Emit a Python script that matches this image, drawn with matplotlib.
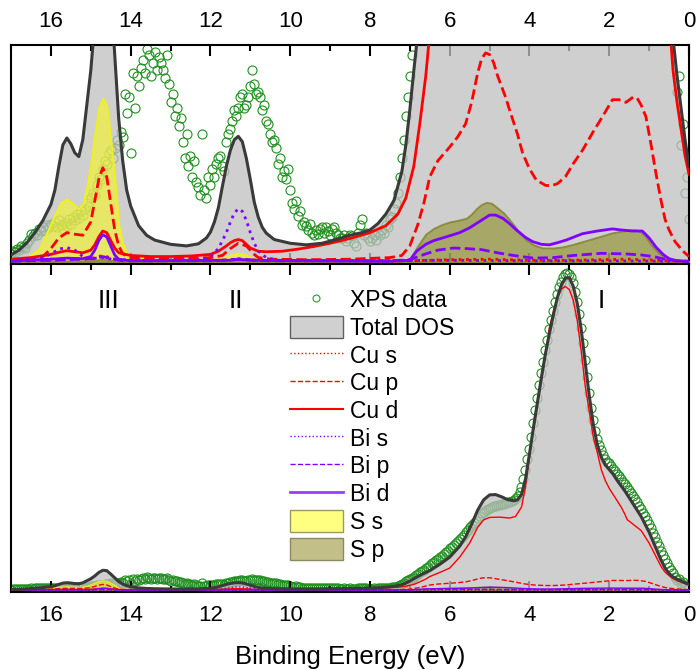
import numpy as np
import matplotlib
matplotlib.use("Agg")
import matplotlib.pyplot as plt
from matplotlib.patches import Patch
from matplotlib.lines import Line2D

plt.rcParams['font.family'] = ['Liberation Sans', 'DejaVu Sans']

# ---- data (arbitrary units, main peak of total DOS ~ 100) ----
tot_E = [17.0, 16.8, 16.6, 16.4, 16.2, 16.0, 15.9, 15.8, 15.7, 15.6, 15.5, 15.4, 15.3, 15.2, 15.1,
         15.0, 14.9, 14.8, 14.7, 14.6, 14.5, 14.4, 14.3, 14.2, 14.1, 14.0, 13.8, 13.6, 13.4, 13.0,
         12.6, 12.3, 12.1, 12.0, 11.9, 11.8, 11.7, 11.6, 11.5, 11.4, 11.3, 11.2, 11.1, 11.0, 10.9,
         10.8, 10.7, 10.6, 10.4, 10.0, 9.6, 9.2, 8.8, 8.5, 8.2, 8.0, 7.8, 7.6, 7.4, 7.2,
         7.1, 7.0, 6.9, 6.8, 6.7, 6.5, 6.25, 6.0, 5.75, 5.6, 5.45, 5.3, 5.15, 5.0, 4.85,
         4.7, 4.55, 4.4, 4.3, 4.2, 4.1, 4.0, 3.9, 3.8, 3.7, 3.6, 3.5, 3.4, 3.3, 3.2,
         3.1, 3.0, 2.9, 2.8, 2.7, 2.6, 2.5, 2.4, 2.3, 2.2, 2.1, 2.0, 1.9, 1.8, 1.6,
         1.4, 1.2, 1.0, 0.9, 0.8, 0.7, 0.6, 0.5, 0.4, 0.3, 0.2, 0.1, 0.0]
tot = [0.13, 0.22, 0.36, 0.55, 0.78, 1.08, 1.35, 1.8, 2.2, 2.33, 2.22, 2.05, 1.98, 2.3, 2.95,
       3.6, 4.5, 5.6, 6.3, 6.2, 5.1, 3.9, 2.7, 1.9, 1.35, 1.05, 0.68, 0.5, 0.41, 0.33,
       0.3, 0.34, 0.45, 0.56, 0.75, 1.02, 1.42, 1.8, 2.1, 2.3, 2.36, 2.26, 1.95, 1.55, 1.12,
       0.84, 0.65, 0.54, 0.42, 0.35, 0.32, 0.35, 0.43, 0.5, 0.55, 0.6, 0.72, 0.9, 1.15, 1.7,
       2.2, 2.86, 3.6, 4.3, 5.0, 6.2, 8.2, 10.5, 14.0, 17.0, 21.0, 25.5, 28.8, 30.4, 30.5,
       29.8, 28.9, 28.5, 28.8, 30.5, 35.5, 43.5, 52.0, 60.0, 68.0, 75.5, 82.0, 88.0, 93.5, 97.5,
       99.7, 99.8, 97.0, 91.5, 83.0, 72.5, 62.0, 53.0, 46.5, 42.5, 40.0, 38.5, 37.0, 35.0, 31.5,
       27.5, 23.5, 18.5, 15.5, 12.5, 9.5, 7.0, 5.3, 4.2, 3.5, 2.9, 2.3, 1.8]

cu_s_E = [17.0, 16.0, 15.6, 15.0, 14.7, 14.3, 13.5, 11.6, 11.3, 11.0, 10.0, 7.0, 6.0, 5.0, 4.0,
          3.0, 1.5, 0.5, 0.0]
cu_s = [0.02, 0.03, 0.05, 0.06, 0.12, 0.03, 0.02, 0.03, 0.06, 0.03, 0.02, 0.02, 0.04, 0.05, 0.03,
        0.03, 0.05, 0.02, 0.01]

cu_p_E = [17.0, 16.5, 16.2, 16.0, 15.8, 15.6, 15.4, 15.2, 15.0, 14.9, 14.8, 14.7, 14.6, 14.5, 14.4,
          14.3, 14.2, 14.0, 13.0, 12.0, 11.7, 11.5, 11.3, 11.1, 11.0, 10.9, 10.8, 10.5, 9.5, 8.5,
          7.5, 7.2, 7.0, 6.8, 6.65, 6.5, 6.3, 6.0, 5.8, 5.6, 5.45, 5.3, 5.2, 5.1, 5.0,
          4.9, 4.8, 4.6, 4.5, 4.3, 4.17, 4.0, 3.83, 3.6, 3.46, 3.3, 3.1, 2.9, 2.67, 2.4,
          2.17, 1.92, 1.75, 1.58, 1.4, 1.3, 1.2, 1.08, 0.95, 0.83, 0.7, 0.6, 0.5, 0.35, 0.15, 0.0]
cu_p = [0.03, 0.05, 0.1, 0.25, 0.45, 0.55, 0.52, 0.5, 0.75, 1.15, 1.55, 1.77, 1.6, 1.1, 0.6,
        0.3, 0.15, 0.08, 0.06, 0.08, 0.12, 0.25, 0.35, 0.3, 0.22, 0.14, 0.08, 0.05, 0.04, 0.05,
        0.08, 0.12, 0.3, 0.7, 1.1, 1.6, 1.9, 2.16, 2.35, 2.6, 3.0, 3.55, 3.82, 3.93, 3.9,
        3.75, 3.5, 3.1, 2.86, 2.4, 2.04, 1.75, 1.54, 1.44, 1.43, 1.47, 1.6, 1.85, 2.1, 2.45,
        2.73, 3.05, 3.05, 3.0, 3.1, 3.08, 2.95, 2.73, 2.2, 1.67, 1.15, 0.8, 0.6, 0.38, 0.2, 0.1]

cu_d_E = [17.0, 16.5, 16.0, 15.8, 15.6, 15.4, 15.2, 15.0, 14.9, 14.8, 14.7, 14.6, 14.5, 14.4, 14.3,
          14.0, 13.5, 13.0, 12.5, 12.0, 11.8, 11.6, 11.5, 11.4, 11.3, 11.2, 11.1, 11.0, 10.8, 10.6,
          10.2, 9.8, 9.4, 9.0, 8.5, 8.0, 7.6, 7.3, 7.1, 6.9, 6.75, 6.6, 6.5, 6.25, 6.0,
          5.75, 5.5, 5.3, 5.15, 5.0, 4.75, 4.5, 4.35, 4.2, 4.1, 4.0, 3.9, 3.8, 3.7, 3.6,
          3.5, 3.4, 3.3, 3.2, 3.1, 3.0, 2.9, 2.8, 2.7, 2.6, 2.5, 2.4, 2.3, 2.2, 2.1,
          2.0, 1.9, 1.8, 1.7, 1.6, 1.55, 1.4, 1.2, 1.0, 0.9, 0.8, 0.7, 0.6, 0.5, 0.4,
          0.3, 0.2, 0.1, 0.0]
cu_d = [0.05, 0.08, 0.14, 0.18, 0.21, 0.19, 0.17, 0.22, 0.32, 0.47, 0.58, 0.55, 0.4, 0.26, 0.17,
        0.12, 0.1, 0.1, 0.11, 0.14, 0.2, 0.3, 0.36, 0.4, 0.42, 0.4, 0.33, 0.26, 0.2, 0.19,
        0.2, 0.24, 0.29, 0.35, 0.44, 0.55, 0.68, 0.9, 1.2, 1.8, 2.6, 3.5, 4.3, 5.6, 7.0,
        10.5, 15.0, 20.0, 22.4, 23.2, 23.3, 23.0, 23.5, 26.5, 33.0, 42.5, 51.0, 59.0, 67.0, 75.0,
        84.0, 89.0, 93.5, 96.2, 97.0, 96.0, 92.5, 86.0, 76.0, 65.0, 57.0, 49.0, 44.0, 38.5, 35.0,
        32.5, 30.5, 28.5, 26.5, 24.0, 22.5, 21.0, 19.0, 15.0, 12.5, 10.0, 7.5, 5.7, 4.6, 3.6,
        3.0, 2.5, 2.0, 1.65]

bi_s_E = [17.0, 16.2, 16.0, 15.8, 15.6, 15.4, 15.2, 15.0, 14.7, 14.4, 13.5, 12.2, 12.0, 11.8, 11.6,
          11.5, 11.4, 11.3, 11.2, 11.1, 11.0, 10.9, 10.8, 10.6, 10.3, 8.0, 6.0, 4.0, 2.0, 0.0]
bi_s = [0.02, 0.08, 0.15, 0.24, 0.27, 0.22, 0.1, 0.06, 0.08, 0.04, 0.03, 0.04, 0.1, 0.25, 0.55,
        0.75, 0.92, 1.0, 0.95, 0.78, 0.55, 0.35, 0.2, 0.08, 0.03, 0.02, 0.03, 0.02, 0.02, 0.01]

bi_p_E = [17.0, 15.6, 14.9, 14.7, 14.5, 14.2, 12.0, 11.3, 10.5, 7.5, 7.0, 6.6, 6.3, 5.9, 5.6,
          5.2, 4.8, 4.4, 3.9, 3.4, 2.9, 2.2, 1.6, 1.2, 0.9, 0.6, 0.3, 0.0]
bi_p = [0.01, 0.04, 0.06, 0.1, 0.06, 0.02, 0.02, 0.05, 0.02, 0.02, 0.04, 0.15, 0.22, 0.26, 0.25,
        0.23, 0.17, 0.12, 0.07, 0.08, 0.12, 0.16, 0.15, 0.13, 0.1, 0.05, 0.02, 0.01]

bi_d_E = [17.0, 16.0, 15.6, 15.2, 15.0, 14.9, 14.8, 14.7, 14.6, 14.5, 14.4, 14.3, 14.0, 11.5, 11.3,
          11.0, 7.5, 7.0, 6.83, 6.6, 6.4, 6.0, 5.75, 5.5, 5.25, 5.0, 4.85, 4.67, 4.5, 4.33,
          4.1, 3.92, 3.7, 3.5, 3.3, 3.08, 2.67, 2.3, 1.92, 1.7, 1.42, 1.17, 1.0, 0.83, 0.65,
          0.5, 0.3, 0.0]
bi_d = [0.02, 0.05, 0.07, 0.06, 0.1, 0.22, 0.4, 0.51, 0.47, 0.3, 0.13, 0.05, 0.02, 0.03, 0.05,
        0.03, 0.01, 0.03, 0.2, 0.33, 0.4, 0.49, 0.55, 0.64, 0.76, 0.88, 0.88, 0.82, 0.72, 0.6,
        0.46, 0.38, 0.33, 0.32, 0.36, 0.41, 0.53, 0.58, 0.62, 0.6, 0.58, 0.58, 0.45, 0.28, 0.14,
        0.06, 0.02, 0.01]

s_s_E = [17.0, 16.6, 16.3, 16.1, 15.9, 15.75, 15.6, 15.45, 15.3, 15.2, 15.1, 15.0, 14.9, 14.8, 14.7,
         14.6, 14.5, 14.4, 14.3, 14.2, 14.1, 14.0, 13.5, 12.0, 11.7, 11.5, 11.3, 11.1, 10.9, 10.5,
         7.0, 5.0, 3.0, 2.0, 1.0, 0.0]
s_s = [0.02, 0.08, 0.25, 0.55, 0.9, 1.12, 1.18, 1.1, 1.0, 1.1, 1.4, 1.85, 2.4, 2.9, 3.08,
       2.95, 2.3, 1.6, 0.7, 0.35, 0.18, 0.1, 0.04, 0.04, 0.08, 0.13, 0.16, 0.13, 0.06, 0.02,
       0.01, 0.03, 0.02, 0.04, 0.03, 0.0]

s_p_E = [17.0, 15.0, 14.7, 14.4, 11.3, 7.2, 7.0, 6.8, 6.6, 6.4, 6.2, 6.0, 5.8, 5.58, 5.45,
         5.33, 5.2, 5.08, 4.95, 4.83, 4.65, 4.5, 4.3, 4.08, 3.9, 3.67, 3.4, 3.17, 2.9, 2.67,
         2.4, 2.17, 1.95, 1.75, 1.5, 1.33, 1.2, 1.08, 0.95, 0.75, 0.55, 0.4, 0.0]
s_p = [0.01, 0.02, 0.05, 0.02, 0.04, 0.01, 0.05, 0.3, 0.52, 0.63, 0.7, 0.75, 0.78, 0.82, 0.9,
       1.0, 1.08, 1.12, 1.1, 1.03, 0.92, 0.79, 0.6, 0.41, 0.32, 0.26, 0.26, 0.28, 0.33, 0.38,
       0.44, 0.49, 0.54, 0.57, 0.6, 0.6, 0.56, 0.47, 0.32, 0.16, 0.06, 0.01, 0.0]

# XPS spectrum, 0.05 eV steps from 17 eV down to 0 eV
xps_E = np.linspace(17.0, 0.0, 341)
xps = [0.15, 0.2, 0.18, 0.25, 0.22, 0.3, 0.28, 0.26, 0.35, 0.42, 0.52, 0.48, 0.55, 0.5, 0.62, 0.58, 0.66, 0.6, 0.7, 0.65,
       0.72, 0.68, 0.75, 0.66, 0.78, 0.7, 0.62, 0.74, 0.68, 0.8, 0.72, 0.85, 0.78, 0.9, 0.82, 0.95, 0.88, 1.0, 1.1, 1.05,
       1.2, 1.3, 1.25, 1.45, 1.6, 1.55, 1.75, 1.9, 1.85, 2.05, 2.1, 1.95, 2.15, 2.3, 2.2, 2.45, 2.35, 3.15, 2.8, 3.1,
       2.05, 3.55, 2.9, 3.5, 3.3, 3.65, 3.8, 3.55, 4.0, 3.9, 3.5, 3.75, 3.95, 3.6, 3.85, 3.75, 3.6, 3.45, 3.9, 3.35,
       3.0, 3.15, 2.75, 2.9, 2.55, 2.7, 2.25, 1.95, 2.4, 1.8, 2.0, 1.6, 1.9, 1.5, 1.4, 1.25, 2.4, 1.35, 1.2, 1.6,
       1.45, 1.75, 1.6, 1.85, 1.95, 2.0, 1.8, 1.7, 2.25, 2.4, 2.5, 2.65, 2.85, 2.75, 2.9, 3.1, 3.15, 2.9, 2.95, 3.1,
       3.3, 3.6, 3.35, 3.15, 3.2, 3.1, 2.85, 2.95, 2.65, 2.6, 2.4, 2.25, 2.3, 2.15, 1.85, 1.95, 1.6, 1.7, 1.55, 1.75,
       1.35, 1.1, 1.0, 1.15, 0.87, 0.95, 0.7, 0.75, 0.68, 0.6, 0.72, 0.55, 0.5, 0.6, 0.52, 0.62, 0.65, 0.55, 0.65, 0.58,
       0.5, 0.62, 0.65, 0.55, 0.5, 0.45, 0.45, 0.5, 0.4, 0.45, 0.5, 0.48, 0.35, 0.3, 0.55, 0.7, 0.8, 0.5, 0.55, 0.45,
       0.4, 0.45, 0.5, 0.42, 0.55, 0.5, 0.6, 0.55, 0.7, 0.65, 0.8, 0.85, 1.0, 1.1, 1.3, 1.6, 1.95, 2.3, 2.75, 3.1,
       3.5, 3.9, 4.3, 4.8, 5.2, 5.6, 6.0, 6.5, 7.0, 7.5, 8.0, 8.5, 9.0, 9.5, 10.0, 10.5, 11.0, 11.5, 12.0, 12.6,
       13.3, 13.9, 14.5, 15.1, 15.8, 16.4, 17.0, 17.7, 18.5, 19.2, 20.0, 20.8, 21.5, 22.2, 23.0, 23.7, 24.5, 25.0, 25.5, 25.9,
       26.2, 26.5, 26.8, 27.0, 27.2, 27.3, 27.5, 27.6, 27.8, 28.0, 28.2, 28.5, 28.8, 29.4, 30.2, 31.4, 33.0, 35.5, 38.5, 42.0,
       45.0, 49.0, 53.5, 57.5, 61.5, 65.5, 69.5, 73.0, 76.8, 80.0, 83.3, 86.3, 89.2, 92.0, 94.5, 96.8, 98.6, 100.0, 101.0, 101.4,
       101.0, 100.0, 98.0, 95.3, 92.2, 88.2, 83.8, 78.8, 73.5, 68.2, 63.0, 58.2, 54.2, 50.8, 48.2, 46.2, 44.6, 43.2, 42.0, 41.0,
       40.5, 39.6, 38.8, 38.0, 37.2, 36.3, 35.5, 34.6, 33.8, 32.9, 32.0, 31.1, 30.2, 29.1, 28.0, 26.9, 25.8, 24.7, 23.5, 22.3,
       21.0, 19.7, 18.3, 16.9, 15.5, 14.0, 12.5, 11.1, 9.8, 8.6, 7.5, 6.4, 5.5, 4.3, 3.2, 3.5, 2.2, 2.6, 1.3, 1.6,
       0.8]

labels = ['XPS data', 'Total DOS', 'Cu s', 'Cu p', 'Cu d', 'Bi s', 'Bi p', 'Bi d', 'S s', 'S p']
regions = ['III', 'II', 'I']
region_E = [14.55, 11.36, 2.2]

RED = '#ff0000'
PURPLE = '#8000ff'
GREEN = '#1f8f1f'


def draw(ax, lw):
    ax.plot(xps_E, xps, 'o', mfc='none', mec=GREEN, mew=0.8, ms=6.5, zorder=1)
    ax.fill_between(tot_E, 0, tot, color='#c0c0c0', alpha=0.75, lw=0, zorder=2)
    ax.fill_between(s_s_E, 0, s_s, facecolor=(1, 1, 0, 0.5), edgecolor='#f0f020', lw=lw * 0.7, zorder=3)
    ax.fill_between(s_p_E, 0, s_p, facecolor=(0.5, 0.5, 0, 0.5), edgecolor='#8c8c40', lw=lw * 0.7, zorder=3)
    ax.plot(cu_s_E, cu_s, color=RED, ls=':', lw=lw, zorder=4)
    ax.plot(cu_p_E, cu_p, color=RED, ls='--', lw=lw, zorder=4)
    ax.plot(cu_d_E, cu_d, color=RED, ls='-', lw=lw, zorder=4)
    ax.plot(bi_s_E, bi_s, color=PURPLE, ls=':', lw=lw, zorder=4)
    ax.plot(bi_p_E, bi_p, color=PURPLE, ls='--', lw=lw, zorder=4)
    ax.plot(bi_d_E, bi_d, color=PURPLE, ls='-', lw=lw, zorder=4)
    ax.plot(tot_E, tot, color='#3a3a3a', lw=2.2, zorder=5)
    ax.set_xlim(17, 0)
    ax.set_xticks(np.arange(16, -1, -2))
    ax.set_xticks(np.arange(17, -1, -1), minor=True)
    ax.set_yticks([])
    ax.tick_params(axis='x', which='both', direction='in', top=True, bottom=True,
                   width=1.5, labelsize=16, pad=9)
    ax.tick_params(axis='x', which='major', length=8)
    ax.tick_params(axis='x', which='minor', length=4.5)
    for s in ax.spines.values():
        s.set_linewidth(1.5)


fig = plt.figure(figsize=(6.98, 6.70), dpi=100)
ax1 = fig.add_axes([0.0158, 0.606, 0.9713, 0.3269])
ax2 = fig.add_axes([0.0158, 0.1164, 0.9713, 0.4896])

draw(ax1, 2.0)
ax1.set_ylim(-0.04, 4.08)
ax1.tick_params(axis='x', labeltop=True, labelbottom=False)

draw(ax2, 1.0)
ax2.set_ylim(-0.64, 104.2)
ax2.set_xlabel('Binding Energy (eV)', fontsize=18.5, labelpad=14)

for t, e in zip(regions, region_E):
    ax2.text(e, 92.3, t, fontsize=19, ha='center', va='center')

handles = [
    Line2D([], [], ls='none', marker='o', mfc='none', mec='#2a9a2a', mew=0.8, ms=5),
    Patch(facecolor='#d0d0d0', edgecolor='#606060', lw=1),
    Line2D([], [], color=RED, ls=':', lw=1),
    Line2D([], [], color=RED, ls='--', lw=1),
    Line2D([], [], color=RED, ls='-', lw=1.5),
    Line2D([], [], color=PURPLE, ls=':', lw=1),
    Line2D([], [], color=PURPLE, ls='--', lw=1),
    Line2D([], [], color='#9040ff', ls='-', lw=2),
    Patch(facecolor='#ffff80', edgecolor='#9a9a60', lw=1),
    Patch(facecolor='#c2c088', edgecolor='#8a8a60', lw=1),
]
ax2.legend(handles, labels, loc='upper left', bbox_to_anchor=(0.4115, 0.925), frameon=False,
           fontsize=16.5, handlelength=2.3, handleheight=1.1, handletextpad=0.3,
           labelspacing=0.17, borderpad=0, borderaxespad=0)

fig.savefig('out.png', dpi=100)
